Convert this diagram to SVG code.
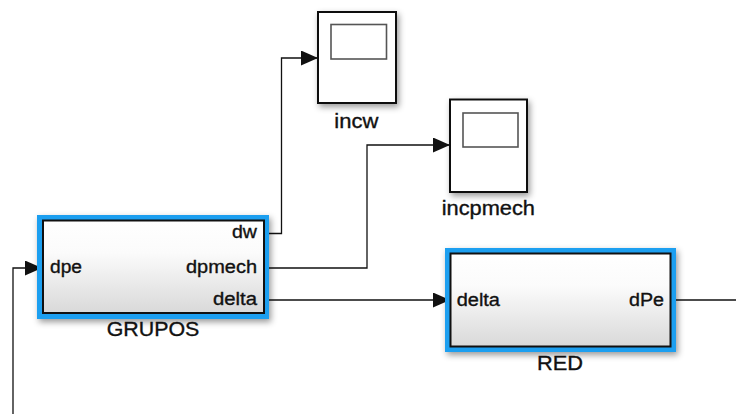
<svg xmlns="http://www.w3.org/2000/svg" width="736" height="414" viewBox="0 0 736 414">
<defs>
<linearGradient id="blockFill" x1="0" y1="0" x2="0" y2="1">
<stop offset="0" stop-color="#ffffff"/>
<stop offset="0.35" stop-color="#fbfbfb"/>
<stop offset="1" stop-color="#d9d9d9"/>
</linearGradient>
<filter id="shadow" x="-10%" y="-15%" width="125%" height="140%">
<feDropShadow dx="2" dy="3" stdDeviation="3" flood-color="#000" flood-opacity="0.4"/>
</filter>
<marker id="arrow" markerUnits="userSpaceOnUse" markerWidth="18" markerHeight="16" refX="17" refY="7.5" orient="auto">
<path d="M0,0 L17,7.5 L0,15 z" fill="#111"/>
</marker>
</defs>
<style>
.lbl{font-family:"Liberation Sans",Arial,sans-serif;font-size:18px;fill:#111;stroke:#111;stroke-width:0.35}
.name{font-family:"Liberation Sans",Arial,sans-serif;font-size:20px;fill:#111;stroke:#111;stroke-width:0.35}
.wire{fill:none;stroke:#111;stroke-width:1.3}
.sel{fill:#1f9ff0}
.body{fill:url(#blockFill);stroke:#111;stroke-width:2}
.scope{fill:#fff;stroke:#111;stroke-width:2}
.screen{fill:#fff;stroke:#555;stroke-width:1.6}
</style>

<g id="connectors">
<polyline class="wire" points="13,414 13,268 42,268" marker-end="url(#arrow)"/>
<polyline class="wire" points="264,233.5 281.5,233.5 281.5,58 318,58" marker-end="url(#arrow)"/>
<polyline class="wire" points="264,268 367,268 367,145 450,145" marker-end="url(#arrow)"/>
<polyline class="wire" points="264,300 450,300" marker-end="url(#arrow)"/>
<polyline class="wire" points="671,300 736,300"/>
</g>

<g id="GRUPOS">
<rect class="sel" x="37" y="215" width="232" height="104" filter="url(#shadow)"/>
<rect class="body" x="43" y="220.5" width="221" height="92.5"/>
<text class="lbl" x="50" y="273" textLength="32" lengthAdjust="spacingAndGlyphs">dpe</text>
<text class="lbl" x="232" y="238.3" textLength="25" lengthAdjust="spacingAndGlyphs">dw</text>
<text class="lbl" x="186" y="273" textLength="71" lengthAdjust="spacingAndGlyphs">dpmech</text>
<text class="lbl" x="213" y="305" textLength="44" lengthAdjust="spacingAndGlyphs">delta</text>
<text class="name" x="106.7" y="335.7" textLength="92.6" lengthAdjust="spacingAndGlyphs">GRUPOS</text>
</g>

<g id="incw">
<rect class="scope" x="318" y="12" width="78" height="91" filter="url(#shadow)"/>
<rect class="screen" x="331" y="24.5" width="55.5" height="34.5"/>
<text class="name" x="334.3" y="128" textLength="44" lengthAdjust="spacingAndGlyphs">incw</text>
</g>

<g id="incpmech">
<rect class="scope" x="450" y="99.5" width="77" height="92.5" filter="url(#shadow)"/>
<rect class="screen" x="463" y="113" width="55" height="34"/>
<text class="name" x="441.7" y="215" textLength="93.3" lengthAdjust="spacingAndGlyphs">incpmech</text>
</g>

<g id="RED">
<rect class="sel" x="445" y="248" width="231" height="104" filter="url(#shadow)"/>
<rect class="body" x="450.5" y="253.5" width="220" height="93"/>
<text class="lbl" x="456.7" y="306" textLength="43.3" lengthAdjust="spacingAndGlyphs">delta</text>
<text class="lbl" x="629" y="306" textLength="35" lengthAdjust="spacingAndGlyphs">dPe</text>
<text class="name" x="537" y="369.5" textLength="46" lengthAdjust="spacingAndGlyphs">RED</text>
</g>
</svg>
